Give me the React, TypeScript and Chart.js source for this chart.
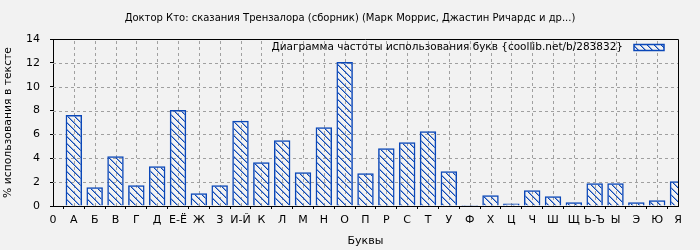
import { useEffect, useRef } from 'react';
import { Chart, registerables } from 'chart.js';

Chart.register(...registerables);

const TITLE = 'Доктор Кто: сказания Трензалора (сборник) (Марк Моррис, Джастин Ричардс и др...)';
const X_TITLE = 'Буквы';
const Y_TITLE = '% использования в тексте';
const LEGEND_LABEL = 'Диаграмма частоты использования букв {coollib.net/b/283832}';

const LETTERS = ['А', 'Б', 'В', 'Г', 'Д', 'Е-Ё', 'Ж', 'З', 'И-Й', 'К', 'Л', 'М', 'Н', 'О', 'П', 'Р', 'С', 'Т', 'У', 'Ф', 'Х', 'Ц', 'Ч', 'Ш', 'Щ', 'Ь-Ъ', 'Ы', 'Э', 'Ю', 'Я'];
const VALUES = [7.62, 1.57, 4.17, 1.74, 3.33, 8.04, 1.06, 1.74, 7.14, 3.67, 5.52, 2.83, 6.61, 12.07, 2.74, 4.84, 5.35, 6.27, 2.91, 0.08, 0.9, 0.22, 1.32, 0.81, 0.31, 1.9, 1.9, 0.31, 0.48, 2.07];
const X_ZERO_LABEL = '0';
const Y_MIN = 0;
const Y_MAX = 14;
const Y_STEP = 2;

const BG = '#f2f2f2';
const BLUE = '#0a47b8';
const GRID = '#a0a0a0';
const FONT = "'DejaVu Sans', sans-serif";
const HATCH = 7;

function makePattern(): CanvasPattern | string {
  const c = document.createElement('canvas');
  c.width = HATCH;
  c.height = HATCH;
  const g = c.getContext('2d');
  if (!g) return BLUE;
  g.fillStyle = BLUE;
  for (let i = 0; i < HATCH; i++) {
    g.fillRect(i, i, 1, 1);
  }
  g.globalAlpha = 0.45;
  for (let i = 0; i < HATCH; i++) {
    g.fillRect((i + 1) % HATCH, i, 1, 1);
  }
  const p = g.createPattern(c, 'repeat');
  return p || BLUE;
}

export default function App() {
  const ref = useRef<HTMLCanvasElement>(null);

  useEffect(() => {
    document.body.style.margin = '0';
    const canvas = ref.current;
    if (!canvas) return;
    const pattern = makePattern();

    const decorPlugin = {
      id: 'decor',
      beforeDraw(chart: any) {
        const ctx = chart.ctx;
        ctx.save();
        ctx.fillStyle = BG;
        ctx.fillRect(0, 0, chart.width, chart.height);
        ctx.fillStyle = '#000';
        ctx.font = `10px ${FONT}`;
        ctx.textAlign = 'center';
        ctx.textBaseline = 'middle';
        ctx.fillText(TITLE, chart.width / 2, 18);
        ctx.restore();
      },
      beforeDatasetsDraw(chart: any) {
        const { ctx, chartArea, scales } = chart;
        const xs = scales.x;
        const ys = scales.y;
        ctx.save();
        ctx.strokeStyle = GRID;
        ctx.lineWidth = 1;
        ctx.setLineDash([3, 3]);
        ctx.beginPath();
        for (let i = 1; i < LETTERS.length; i++) {
          const px = Math.round(xs.getPixelForValue(i)) + 0.5;
          ctx.moveTo(px, chartArea.bottom);
          ctx.lineTo(px, chartArea.top);
        }
        for (let v = Y_MIN + Y_STEP; v < Y_MAX; v += Y_STEP) {
          const py = Math.round(ys.getPixelForValue(v)) + 0.5;
          ctx.moveTo(chartArea.left, py);
          ctx.lineTo(chartArea.right, py);
        }
        ctx.stroke();
        ctx.restore();
      },
      afterDraw(chart: any) {
        const { ctx, chartArea } = chart;
        ctx.save();
        ctx.strokeStyle = '#000';
        ctx.lineWidth = 1;
        ctx.beginPath();
        ctx.moveTo(chartArea.left, Math.round(chartArea.top) + 0.5);
        ctx.lineTo(Math.round(chartArea.right) + 0.5, Math.round(chartArea.top) + 0.5);
        ctx.lineTo(Math.round(chartArea.right) + 0.5, chartArea.bottom);
        ctx.stroke();
        // legend
        const boxRight = chartArea.right - 14;
        const boxW = 30;
        const boxH = 6;
        const cy = chartArea.top + 8.5;
        ctx.fillStyle = BG;
        ctx.fillRect(boxRight - boxW, cy - boxH / 2, boxW, boxH);
        ctx.fillStyle = pattern;
        ctx.fillRect(boxRight - boxW, cy - boxH / 2, boxW, boxH);
        ctx.strokeStyle = BLUE;
        ctx.lineWidth = 1.5;
        ctx.strokeRect(boxRight - boxW, cy - boxH / 2, boxW, boxH);
        ctx.fillStyle = '#000';
        ctx.font = `10.5px ${FONT}`;
        ctx.textAlign = 'right';
        ctx.textBaseline = 'middle';
        ctx.fillText(LEGEND_LABEL, boxRight - boxW - 11, cy);
        ctx.restore();
      },
    };

    const chart = new Chart(canvas, {
      type: 'bar',
      data: {
        datasets: [
          {
            label: LEGEND_LABEL,
            data: VALUES.map((v, i) => ({ x: i + 1, y: v })),
            backgroundColor: pattern as any,
            borderColor: BLUE,
            borderWidth: 1.5,
            barPercentage: 0.79,
            categoryPercentage: 1,
          },
        ],
      },
      options: {
        responsive: false,
        animation: false,
        layout: { padding: { left: 0, right: 22, top: 39, bottom: 0 } },
        plugins: {
          legend: { display: false },
          tooltip: { enabled: false },
          title: { display: false },
        },
        scales: {
          x: {
            type: 'linear',
            min: 0,
            max: LETTERS.length,
            offset: false,
            afterFit(scale: any) {
              scale.height = 44;
            },
            afterBuildTicks(scale: any) {
              scale.ticks = [X_ZERO_LABEL, ...LETTERS].map((_, i) => ({ value: i }));
            },
            ticks: {
              autoSkip: false,
              maxRotation: 0,
              color: '#000',
              font: { family: FONT, size: 11 },
              padding: 5,
              callback: (v: any) => (v === 0 ? X_ZERO_LABEL : LETTERS[Number(v) - 1]),
            },
            grid: {
              drawOnChartArea: false,
              color: '#000',
              tickColor: '#000',
              tickLength: 3,
            },
            border: { display: true, color: '#000', width: 1 },
            title: {
              display: true,
              text: X_TITLE,
              color: '#000',
              font: { family: FONT, size: 11 },
              padding: { top: 0, bottom: 2 },
            },
          },
          y: {
            min: Y_MIN,
            max: Y_MAX,
            afterFit(scale: any) {
              scale.width = 53;
            },
            ticks: {
              stepSize: Y_STEP,
              color: '#000',
              font: { family: FONT, size: 11 },
              padding: 10,
            },
            grid: {
              drawOnChartArea: false,
              color: '#000',
              tickColor: '#000',
              tickLength: 3,
            },
            border: { display: true, color: '#000', width: 1 },
            title: {
              display: true,
              text: Y_TITLE,
              color: '#000',
              font: { family: FONT, size: 10.8 },
              padding: { top: 2, bottom: 0 },
            },
          },
        },
      },
      plugins: [decorPlugin],
    });

    return () => chart.destroy();
  }, []);

  return (
    <div style={{ position: 'fixed', left: 0, top: 0, width: 700, height: 250, background: BG }}>
      <canvas ref={ref} width={700} height={250} />
    </div>
  );
}
